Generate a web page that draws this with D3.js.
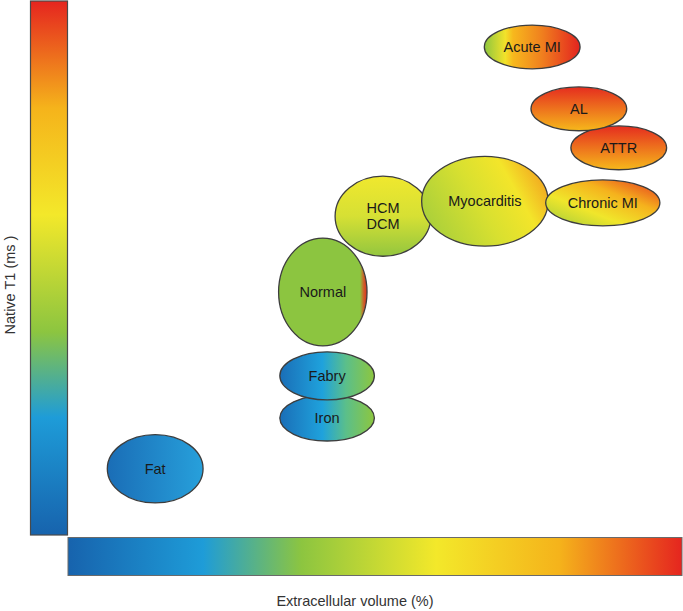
<!DOCTYPE html>
<html>
<head>
<meta charset="utf-8">
<script src="https://cdn.jsdelivr.net/npm/d3@7"></script>
<style>
  body { margin: 0; background: #fff; }
  svg { display: block; font-family: "Liberation Sans", Arial, sans-serif; }
</style>
</head>
<body>
<div id="chart"></div>
<script>
'use strict';

/* data: extracellular volume (x) and native T1 (y) spans, in relative units 0-100 */
/* drawn in this order, so Fabry sits over Iron and AL over ATTR */
var names    = ['Fat', 'Iron', 'Fabry', 'Normal', 'HCM\nDCM', 'Myocarditis', 'Chronic MI', 'ATTR', 'AL', 'Acute MI'];
var ecvLow   = [6.4, 34.5, 34.5, 34.3, 43.5, 57.6, 77.8, 81.9, 75.4, 67.8];
var ecvHigh  = [22.0, 49.9, 49.9, 48.7, 59.1, 78.2, 96.4, 97.5, 91.0, 83.4];
var t1Low    = [6.0, 17.6, 25.3, 35.4, 52.2, 54.1, 57.9, 68.4, 75.7, 87.3];
var t1High   = [18.8, 26.2, 34.3, 55.6, 67.2, 70.9, 66.5, 76.6, 83.9, 95.5];

var colorStops = ['#1763ad', '#1e9cd8', '#8cc540', '#f3e82a', '#f5b31b', '#e5251f'];

var width = 683;
var height = 611;

var svg = d3.select('#chart')
  .append('svg')
  .attr('width', width)
  .attr('height', height);

var x = d3.scaleLinear().domain([0, 100]).range([68, 682]);
var y = d3.scaleLinear().domain([0, 100]).range([535, 1]);

var defs = svg.append('defs');

/* gradient helper */
function gradient(id, x1, y1, x2, y2, stops) {
  var g = defs.append('linearGradient')
    .attr('id', id)
    .attr('x1', x1).attr('y1', y1)
    .attr('x2', x2).attr('y2', y2);
  stops.forEach(function(s) {
    g.append('stop').attr('offset', s[0]).attr('stop-color', s[1]);
  });
}

var barStops = colorStops.map(function(c, i) {
  var offs = [0, 0.22, 0.38, 0.6, 0.8, 1];
  return [offs[i], c];
});
gradient('barH', 0, 0, 1, 0, barStops);
gradient('barV', 0, 1, 0, 0, barStops);

gradient('gFat', 0, 0, 1, 0, [[0, '#1a6db6'], [1, '#27a0db']]);
gradient('gBlue', 0, 0, 1, 0, [[0, '#1a6eb7'], [0.45, '#1fa2dc'], [0.7, '#5bbf8a'], [1, '#8dc63f']]);
gradient('gNormal', 0, 0, 1, 0, [[0, '#8cc540'], [0.92, '#8cc540'], [0.96, '#c9662a'], [1, '#e22a1f']]);
gradient('gHcm', 0, 0, 0, 1, [[0, '#f0e82e'], [0.5, '#d6e034'], [1, '#93c63f']]);
gradient('gMyo', 0, 0.7, 1, 0.3, [[0, '#a8cf3b'], [0.45, '#d8e030'], [0.75, '#f3e52a'], [1, '#f2a51f']]);
gradient('gChronic', 0, 1, 1, 0, [[0, '#9ecb3c'], [0.35, '#f0e62b'], [0.65, '#f5b21d'], [1, '#e5321f']]);
gradient('gRed', 0, 0, 0, 1, [[0, '#e52d1f'], [1, '#f6b81b']]);
gradient('gAcute', 0, 0, 1, 0, [[0, '#8dc63f'], [0.22, '#f2e22a'], [0.3, '#f7b81d'], [0.6, '#f0801e'], [1, '#e3231f']]);

var fills = ['gFat', 'gBlue', 'gBlue', 'gNormal', 'gHcm', 'gMyo', 'gChronic', 'gRed', 'gRed', 'gAcute'];

/* color bars */
svg.append('rect')
  .attr('x', 30.5).attr('y', y(100))
  .attr('width', 37).attr('height', y(0) - y(100))
  .attr('fill', 'url(#barV)')
  .attr('stroke', '#4a4a4a').attr('stroke-width', 1.2);

svg.append('rect')
  .attr('x', x(0)).attr('y', 537.5)
  .attr('width', x(100) - x(0)).attr('height', 38)
  .attr('fill', 'url(#barH)')
  .attr('stroke', '#6a6a6a').attr('stroke-width', 1);

/* ellipses */
var data = names.map(function(n, i) {
  return { name: n, x0: ecvLow[i], x1: ecvHigh[i], y0: t1Low[i], y1: t1High[i], fill: fills[i] };
});

var g = svg.selectAll('.region')
  .data(data)
  .enter()
  .append('g')
  .attr('class', 'region');

g.append('ellipse')
  .attr('cx', function(d) { return (x(d.x0) + x(d.x1)) / 2; })
  .attr('cy', function(d) { return (y(d.y0) + y(d.y1)) / 2; })
  .attr('rx', function(d) { return (x(d.x1) - x(d.x0)) / 2; })
  .attr('ry', function(d) { return (y(d.y0) - y(d.y1)) / 2; })
  .attr('fill', function(d) { return 'url(#' + d.fill + ')'; })
  .attr('stroke', '#3d3d3d')
  .attr('stroke-width', 1.3);

g.append('text')
  .attr('x', function(d) { return (x(d.x0) + x(d.x1)) / 2; })
  .attr('y', function(d) { return (y(d.y0) + y(d.y1)) / 2; })
  .attr('text-anchor', 'middle')
  .attr('font-size', 14.5)
  .attr('fill', '#1a1a1a')
  .each(function(d) {
    var lines = d.name.split('\n');
    var t = d3.select(this);
    lines.forEach(function(l, i) {
      t.append('tspan')
        .attr('x', t.attr('x'))
        .attr('dy', i === 0 ? (0.35 - (lines.length - 1) * 0.55) + 'em' : '1.1em')
        .text(l);
    });
  });

/* axis titles */
svg.append('text')
  .attr('x', 355).attr('y', 606)
  .attr('text-anchor', 'middle')
  .attr('font-size', 14.5)
  .attr('fill', '#333')
  .text('Extracellular volume (%)');

svg.append('text')
  .attr('transform', 'translate(15,285) rotate(-90)')
  .attr('text-anchor', 'middle')
  .attr('font-size', 14.5)
  .attr('fill', '#333')
  .text('Native T1 (ms )');
</script>
</body>
</html>
